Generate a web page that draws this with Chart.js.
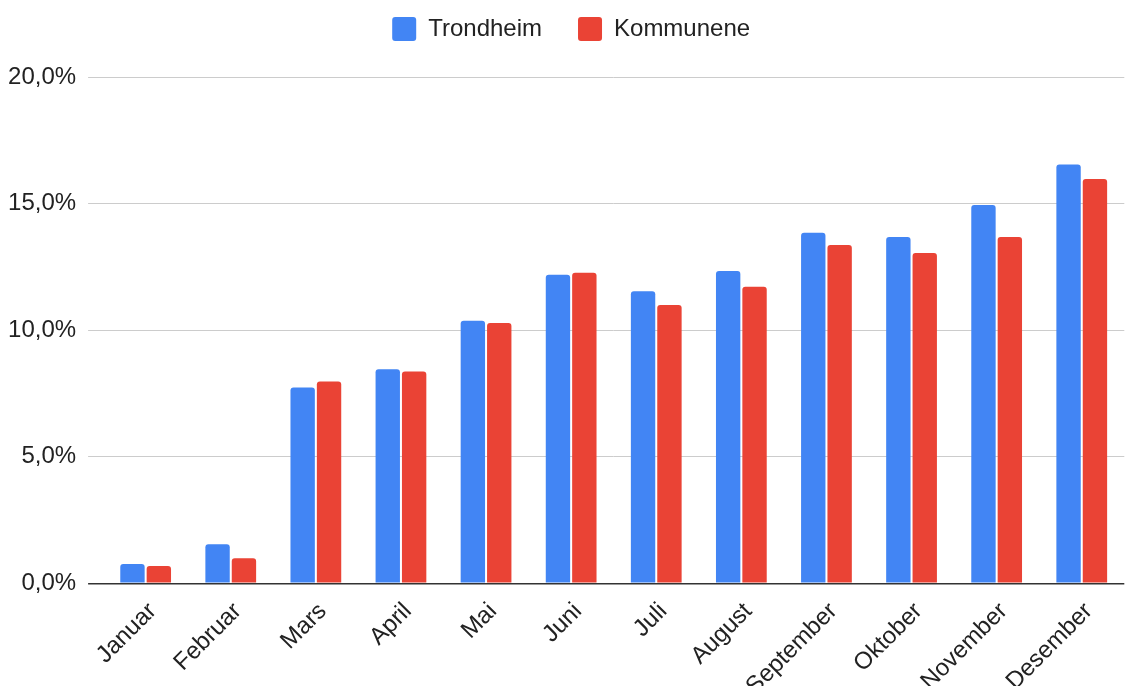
<!DOCTYPE html>
<html>
<head>
<meta charset="utf-8">
<script src="https://cdn.jsdelivr.net/npm/chart.js@4/dist/chart.umd.min.js"></script>
<style>
  html, body { margin: 0; padding: 0; background: #ffffff; }
  #wrap { width: 1126px; height: 686px; }
</style>
</head>
<body>
<div id="wrap"><canvas id="c" width="1126" height="686"></canvas></div>
<script>
const categories = ['Januar', 'Februar', 'Mars', 'April', 'Mai', 'Juni', 'Juli', 'August', 'September', 'Oktober', 'November', 'Desember'];
const trondheim = [0.76, 1.54, 7.73, 8.46, 10.37, 12.19, 11.54, 12.34, 13.85, 13.68, 14.94, 16.54];
const kommunene = [0.68, 0.99, 7.97, 8.37, 10.28, 12.27, 10.99, 11.71, 13.36, 13.05, 13.68, 15.97];
const seriesNames = ['Trondheim', 'Kommunene'];
const yTickValues = [0, 5, 10, 15, 20];

const FONT = "'Liberation Sans', Arial, Helvetica, sans-serif";

const legendSpacer = {
  id: 'legendSpacer',
  beforeInit(chart) {
    const orig = chart.legend.fit;
    chart.legend.fit = function () {
      orig.call(this);
      this.height += 26;
    };
  },
  afterLayout(chart) {
    chart.legend.left += 18;
  }
};

new Chart(document.getElementById('c'), {
  type: 'bar',
  data: {
    labels: categories,
    datasets: [
      {
        label: seriesNames[0],
        data: trondheim,
        backgroundColor: '#4285F4',
        borderWidth: 0,
        borderRadius: { topLeft: 3, topRight: 3, bottomLeft: 0, bottomRight: 0 },
        borderSkipped: 'start',
        categoryPercentage: 0.62,
        barPercentage: 0.924
      },
      {
        label: seriesNames[1],
        data: kommunene,
        backgroundColor: '#EA4335',
        borderWidth: 0,
        borderRadius: { topLeft: 3, topRight: 3, bottomLeft: 0, bottomRight: 0 },
        borderSkipped: 'start',
        categoryPercentage: 0.62,
        barPercentage: 0.924
      }
    ]
  },
  options: {
    responsive: false,
    animation: false,
    layout: { padding: { top: -19, left: 0, right: 1.7, bottom: 0 } },
    plugins: {
      legend: {
        position: 'top',
        align: 'center',
        labels: {
          boxWidth: 24,
          boxHeight: 24,
          padding: 36,
          useBorderRadius: true,
          borderRadius: 3,
          color: '#222222',
          font: { family: FONT, size: 24 }
        }
      },
      tooltip: { enabled: false }
    },
    scales: {
      x: {
        offset: true,
        grid: { display: false },
        border: { display: false },
        ticks: {
          autoSkip: false,
          maxRotation: 45,
          minRotation: 45,
          color: '#222222',
          font: { family: FONT, size: 24 },
          padding: 6,
          labelOffset: 7
        },
        afterFit(scale) { scale.height = 102.7; }
      },
      y: {
        min: 0,
        max: 20,
        afterBuildTicks(scale) { scale.ticks = yTickValues.map(v => ({ value: v })); },
        border: { display: false },
        grid: {
          color: (ctx) => (ctx.tick && ctx.tick.value === 0 ? '#333333' : '#cccccc'),
          lineWidth: (ctx) => (ctx.tick && ctx.tick.value === 0 ? 1.5 : 1),
          drawTicks: true,
          tickLength: 15
        },
        ticks: {
          padding: 12,
          color: '#222222',
          font: { family: FONT, size: 24 },
          callback: (v) => Number(v).toFixed(1).replace('.', ',') + '%'
        },
        afterFit(scale) { scale.width = 103.1; }
      }
    }
  },
  plugins: [legendSpacer]
});
</script>
</body>
</html>
